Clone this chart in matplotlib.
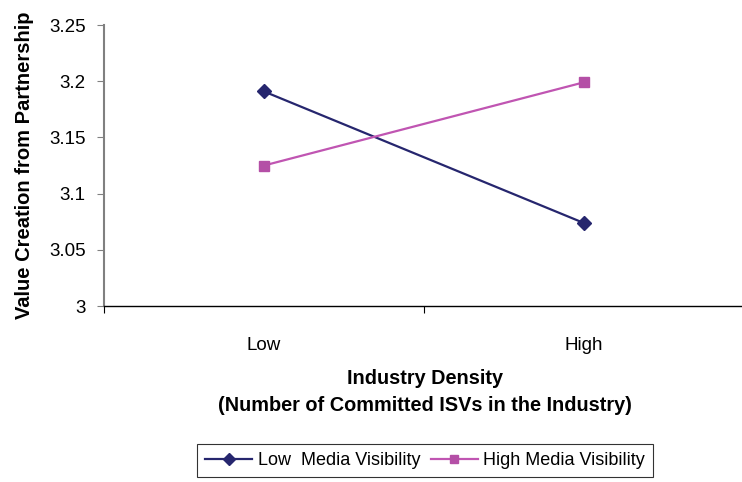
import matplotlib.pyplot as plt

plt.rcParams['font.family'] = ['Liberation Sans', 'DejaVu Sans']

# industry density categories and mean partnership value per media visibility group
categories = ["Low", "High"]
low_visibility = [3.191, 3.074]
high_visibility = [3.125, 3.199]
y_ticks = [3, 3.05, 3.1, 3.15, 3.2, 3.25]
y_tick_labels = ["3", "3.05", "3.1", "3.15", "3.2", "3.25"]

fig = plt.figure(figsize=(7.42, 4.82), dpi=100)
ax = fig.add_axes([0.140, 0.365, 0.862, 0.583])

x = [0.5, 1.5]
ax.plot(x, low_visibility, color="#26266e", marker="D", markersize=7,
        linewidth=1.6, label="Low  Media Visibility")
ax.plot(x, high_visibility, color="#c055b2", marker="s", markersize=7,
        markerfacecolor="#b44fa6", markeredgecolor="#b44fa6",
        linewidth=1.6, label="High Media Visibility")

ax.set_xlim(0, 2)
ax.set_ylim(3, 3.25)
ax.set_yticks(y_ticks)
ax.set_yticklabels(y_tick_labels)
ax.set_xticks([0, 1, 2])
ax.set_xticklabels([])
ax.set_xticks(x, minor=True)
ax.set_xticklabels(categories, minor=True)
ax.tick_params(axis="x", which="minor", length=0, pad=22, labelsize=13.5)
ax.tick_params(axis="x", which="major", length=5, direction="out", color="black")
ax.tick_params(axis="y", length=5, direction="out", color="#808080", labelsize=13.5, pad=8)

for side in ("top", "right"):
    ax.spines[side].set_visible(False)
ax.spines["left"].set_color("#808080")
ax.spines["left"].set_linewidth(1.5)
ax.spines["bottom"].set_color("black")
ax.spines["bottom"].set_linewidth(1.0)

ax.set_ylabel("Value Creation from Partnership", fontsize=14.5, fontweight="bold")
ax.yaxis.set_label_coords(-0.110, 0.5)
fig.text(0.573, 0.187, "Industry Density\n(Number of Committed ISVs in the Industry)",
         ha="center", va="center", fontsize=14.3, fontweight="bold", linespacing=1.5)

leg = fig.legend(loc="center", bbox_to_anchor=(0.573, 0.044), ncol=2, frameon=True,
                 fancybox=False, edgecolor="black", fontsize=13, handlelength=2.6,
                 columnspacing=0.6, handletextpad=0.3, borderpad=0.45, markerscale=0.85)
leg.get_frame().set_linewidth(0.8)

fig.savefig("out.png", dpi=100)
